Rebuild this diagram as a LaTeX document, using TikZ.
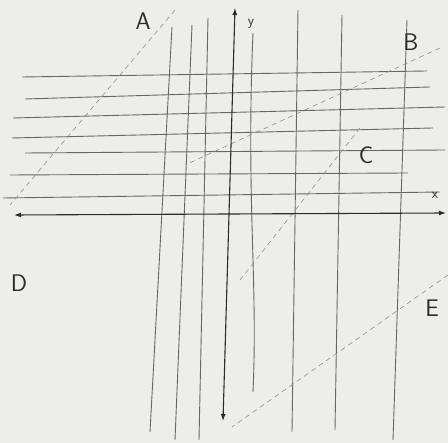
\documentclass[tikz,border=0pt]{standalone}
\usepackage{fontspec}
\usetikzlibrary{arrows.meta}
\definecolor{paper}{HTML}{EDEDEC}
\definecolor{pencil}{HTML}{2B2B2B}
\definecolor{graph}{HTML}{666666}
\definecolor{faint}{HTML}{8E8E8E}

\begin{document}
\begin{tikzpicture}[x=1pt,y=-1pt,
  axis/.style={pencil,line width=1.1pt,{Latex[length=7pt,width=5pt]}-{Latex[length=7pt,width=5pt]}},
  gridline/.style={graph,line width=.9pt},
  guide/.style={faint,line width=.6pt,dash pattern=on 5pt off 4pt},
  letter/.style={font=\sffamily\fontsize{24}{26}\selectfont,text=pencil,inner sep=0pt}]
\fill[paper] (0,0) rectangle (448,443);
\useasboundingbox (0,0) rectangle (448,443);
% horizontal lines above the x axis
\foreach \xa/\ya/\xb/\yb in {22/77/427/71,25/99/430/87,13/118/445/107,12/138/433/128,25/153/445/150,10/175/408/173,3/198/440/192}
 \draw[gridline] (\xa,\ya)--(\xb,\yb);
% vertical lines
\foreach \xa/\ya/\xb/\yb in {172/27/150/432,192/25/175/440,208/18/199/440,298/10/292/432,342/15/335/430,407/20/393/440}
 \draw[gridline] (\xa,\ya)--(\xb,\yb);
\draw[gridline] (253,33) .. controls (246,200) and (258,280) .. (253,392);
% dashed guides
\coordinate (a1) at (175,10); \coordinate (a2) at (10,205);
\coordinate (b1) at (440,48); \coordinate (b2) at (185,165);
\coordinate (c1) at (360,128); \coordinate (c2) at (240,280);
\coordinate (e1) at (448,275); \coordinate (e2) at (232,427);
\foreach \p in {a,b,c,e}
 \draw[guide] (\p1)--(\p2);
% axes
\coordinate (xl) at (14,215); \coordinate (xr) at (446,213);
\coordinate (yt) at (235,8); \coordinate (yb) at (223,421);
\draw[axis] (xl)--(xr);
\draw[axis] (yb)--(yt);
\node[letter,font=\sffamily\fontsize{14}{15}\selectfont] (xlab) at (435,195) {x};
\node[letter,font=\sffamily\fontsize{14}{15}\selectfont] (ylab) at (251,24) {y};
% region letters
\foreach \n/\x/\y in {A/143/21,B/411/42,C/366/155,D/19/283,E/432/308}
 \node[letter] (lab\n) at (\x,\y) {\n};
\end{tikzpicture}
\end{document}
